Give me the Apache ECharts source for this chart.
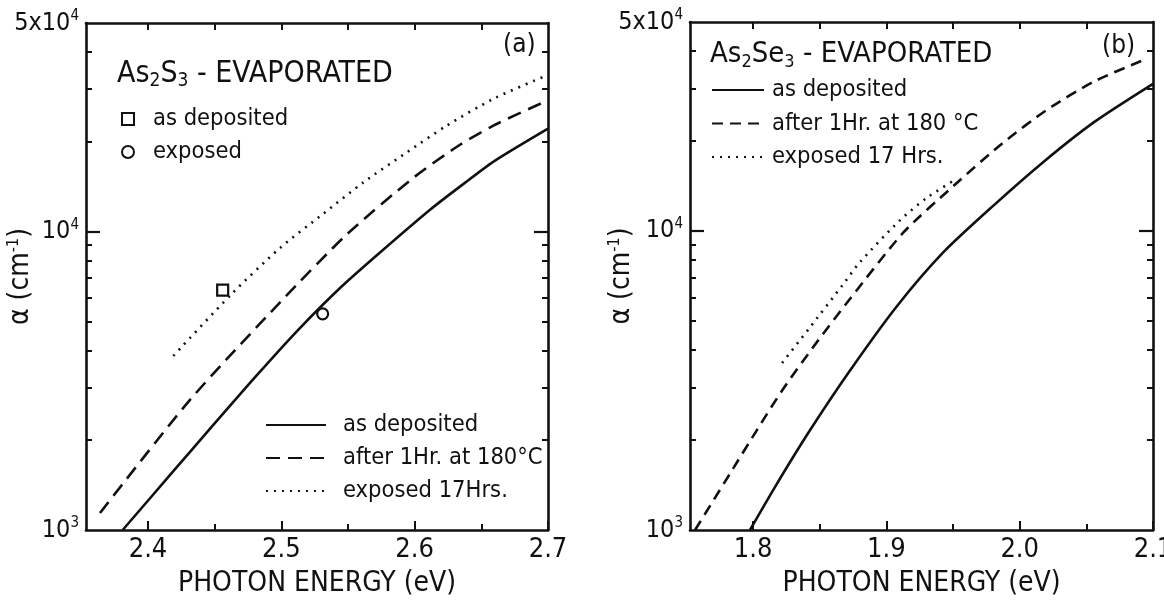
<!DOCTYPE html>
<html lang="en">
<head>
<meta charset="utf-8">
<title>Absorption edge of evaporated As2S3 and As2Se3 films</title>
<script src="https://cdn.jsdelivr.net/npm/echarts@6/dist/echarts.min.js"></script>
<style>
  html, body { margin: 0; padding: 0; background: #fff; }
  #main { width: 1164px; height: 600px; }
</style>
</head>
<body>
<div id="main"></div>
<script>
// (a) As2S3 evaporated: photon energy (eV) / absorption coefficient (cm-1)
var aSolidE = [2.381, 2.419, 2.448, 2.4815, 2.5125, 2.545, 2.574, 2.612, 2.639, 2.660, 2.700];
var aSolidA = [1000, 1574, 2223, 3296, 4677, 6531, 8511, 11885, 14720, 17260, 22130];
var aDashE = [2.364, 2.4315, 2.4995, 2.549, 2.599, 2.632, 2.659, 2.695];
var aDashA = [1140, 2729, 5821, 9772, 15140, 19280, 22650, 26920];
var aDotE = [2.419, 2.4625, 2.499, 2.5315, 2.5615, 2.594, 2.624, 2.660, 2.700];
var aDotA = [3830, 6166, 8810, 11480, 14620, 18410, 22650, 27990, 33500];
var aSquareE = [2.456];
var aSquareA = [6370];
var aCircleE = [2.531];
var aCircleA = [5300];

// (b) As2Se3 evaporated
var bSolidE = [1.7977, 1.8173, 1.8422, 1.8722, 1.9073, 1.9428, 1.9803, 2.0178, 2.0558, 2.100];
var bSolidA = [1000, 1413, 2138, 3388, 5559, 8492, 12160, 17020, 23120, 31050];
var bDashE = [1.7565, 1.7822, 1.8023, 1.8223, 1.8473, 1.8722, 1.9128, 1.9503, 1.9878, 2.0203, 2.0558, 2.092];
var bDashA = [1000, 1531, 2138, 2951, 4217, 5888, 9886, 14140, 19770, 25400, 31620, 37150];
var bDotE = [1.8218, 1.8422, 1.8673, 1.880, 1.910, 1.930, 1.9528];
var bDotA = [3620, 4732, 6607, 7852, 10840, 12880, 14960];

// axis ranges and tick values
var aRange = [2.3535, 2.7];
var bRange = [1.7527, 2.1];
var alphaRange = [1000, 50000];
var aMajorE = [2.4, 2.5, 2.6, 2.7];
var aMinorE = [2.45, 2.55, 2.65];
var aTopE = [2.4, 2.45, 2.5, 2.55, 2.6, 2.65];
var bMajorE = [1.8, 1.9, 2.0, 2.1];
var bMinorE = [1.85, 1.95, 2.05];
var bTopE = [1.8, 1.85, 1.9, 1.95, 2.0, 2.05];
var alphaLabels = [1000, 10000, 50000];
var alphaMajor = [10000];
var alphaMinor = [2000, 3000, 4000, 5000, 6000, 7000, 8000, 9000, 20000, 30000, 40000];

var legendNames = {
    'a-square': 'as deposited',
    'a-circle': 'exposed',
    'a-solid': 'as deposited',
    'a-dash': 'after 1Hr. at 180°C',
    'a-dot': 'exposed 17Hrs.',
    'b-solid': 'as deposited',
    'b-dash': 'after 1Hr. at 180 °C',
    'b-dot': 'exposed 17 Hrs.'
};

var FONT = "'DejaVu Sans Condensed', 'Liberation Sans Narrow', 'DejaVu Sans', sans-serif";
var INK = '#111';

function pairs(xs, ys) {
    return xs.map(function (x, i) { return [x, ys[i]]; });
}

function alphaLabel(v) {
    v = Math.round(v);
    if (v === 50000) return '{n|5x10}{s|4}';
    if (v === 10000) return '{n|10}{s|4}';
    if (v === 1000) return '{n|10}{s|3}';
    return '';
}

var borderLine = { onZero: false, lineStyle: { color: INK, width: 2.6 } };
var noLine = { show: false };

// three x axes per panel: bottom with labels, bottom minor ticks, top border
function xAxesFor(g, range, major, minor, top) {
    return [
        {
            type: 'value', gridIndex: g, position: 'bottom', min: range[0], max: range[1],
            axisLine: borderLine, splitLine: { show: false },
            axisTick: { inside: true, length: 9, customValues: major, lineStyle: { color: INK, width: 2 } },
            axisLabel: {
                customValues: major, margin: 6, color: INK, fontFamily: FONT, fontSize: 27,
                formatter: function (v) { return v.toFixed(1); }
            },
            name: 'PHOTON ENERGY (eV)', nameLocation: 'middle', nameGap: 40, nameMoveOverlap: false,
            nameTextStyle: { color: INK, fontFamily: FONT, fontSize: 28 }
        },
        {
            type: 'value', gridIndex: g, position: 'bottom', min: range[0], max: range[1],
            axisLine: noLine, splitLine: { show: false }, axisLabel: { show: false },
            axisTick: { inside: true, length: 6, customValues: minor, lineStyle: { color: INK, width: 2 } }
        },
        {
            type: 'value', gridIndex: g, position: 'top', min: range[0], max: range[1],
            axisLine: borderLine, splitLine: { show: false }, axisLabel: { show: false },
            axisTick: { inside: true, length: 7, customValues: top, lineStyle: { color: INK, width: 2 } }
        }
    ];
}

// four log y axes per panel: left with labels, left minor ticks, right border, right minor ticks
function yAxesFor(g, nameGap) {
    var base = { type: 'log', logBase: 10, gridIndex: g, min: alphaRange[0], max: alphaRange[1], splitLine: { show: false } };
    var minorTick = { inside: true, length: 6, customValues: alphaMinor, lineStyle: { color: INK, width: 2 } };
    var majorTick = { inside: true, length: 14, customValues: alphaMajor, lineStyle: { color: INK, width: 2.2 } };
    return [
        Object.assign({}, base, {
            position: 'left', axisLine: borderLine, axisTick: majorTick,
            axisLabel: {
                customValues: alphaLabels, margin: 7, color: INK, fontFamily: FONT, fontSize: 25,
                formatter: alphaLabel,
                rich: {
                    n: { fontFamily: FONT, fontSize: 25, color: INK, lineHeight: 28 },
                    s: { fontFamily: FONT, fontSize: 15, color: INK, verticalAlign: 'top' }
                }
            },
            name: '{t|α (cm}{s|-1}{t|)}', nameLocation: 'middle', nameRotate: 90, nameGap: nameGap,
            nameMoveOverlap: false,
            nameTextStyle: {
                color: INK, fontFamily: FONT, fontSize: 28,
                rich: {
                    t: { fontFamily: FONT, fontSize: 28, color: INK, lineHeight: 30 },
                    s: { fontFamily: FONT, fontSize: 16, color: INK, verticalAlign: 'top' }
                }
            }
        }),
        Object.assign({}, base, { position: 'left', axisLine: noLine, axisLabel: { show: false }, axisTick: minorTick }),
        Object.assign({}, base, { position: 'right', axisLine: borderLine, axisLabel: { show: false }, axisTick: majorTick }),
        Object.assign({}, base, { position: 'right', axisLine: noLine, axisLabel: { show: false }, axisTick: minorTick })
    ];
}

function curve(name, g, xs, ys, dash) {
    return {
        type: 'line', name: name, xAxisIndex: g * 3, yAxisIndex: g * 4,
        data: pairs(xs, ys), symbol: 'none', smooth: 0.25, clip: true,
        itemStyle: { color: INK },
        lineStyle: { color: INK, width: 2.6, type: dash }
    };
}

function point(name, xs, ys, symbol) {
    return {
        type: 'scatter', name: name, xAxisIndex: 0, yAxisIndex: 0,
        data: pairs(xs, ys), symbol: symbol, symbolSize: 11,
        itemStyle: { color: '#fff', borderColor: INK, borderWidth: 2.2, opacity: 1 }
    };
}

function titleRich(size) {
    return {
        t: { fontFamily: FONT, fontSize: size, fontWeight: 'normal', color: INK, lineHeight: 34 },
        d: { fontFamily: FONT, fontSize: Math.round(size * 0.62), fontWeight: 'normal', color: INK, verticalAlign: 'bottom' }
    };
}

var legendText = { color: INK, fontFamily: FONT, fontSize: 23.5, lineHeight: 24 };

var myChart = echarts.init(document.getElementById('main'), null, { renderer: 'canvas' });
var option = {
    animation: false,
    backgroundColor: '#fff',
    grid: [
        { left: 86, right: 1164 - 548, top: 23, bottom: 70, outerBoundsMode: 'none' },
        { left: 690, right: 1164 - 1153, top: 22, bottom: 70, outerBoundsMode: 'none' }
    ],
    title: [
        { text: '{t|As}{d|2}{t|S}{d|3}{t| - EVAPORATED}', left: 117, top: 57, padding: 0, textStyle: { fontWeight: 'normal', rich: titleRich(30) } },
        { text: '(a)', left: 503, top: 32, padding: 0, textStyle: { fontFamily: FONT, fontSize: 26, fontWeight: 'normal', color: INK } },
        { text: '{t|As}{d|2}{t|Se}{d|3}{t| - EVAPORATED}', left: 710, top: 37, padding: 0, textStyle: { fontWeight: 'normal', rich: titleRich(29) } },
        { text: '(b)', left: 1102, top: 33, padding: 0, textStyle: { fontFamily: FONT, fontSize: 26, fontWeight: 'normal', color: INK } }
    ],
    legend: [
        {
            data: ['a-square', 'a-circle'], orient: 'vertical', left: 121, top: 107, padding: 0,
            itemWidth: 12, itemHeight: 12, itemGap: 9, selectedMode: false,
            formatter: function (n) { return legendNames[n]; },
            textStyle: Object.assign({ padding: [0, 0, 0, 14] }, legendText)
        },
        {
            data: ['a-solid', 'a-dash', 'a-dot'], orient: 'vertical', left: 265, top: 413, padding: 0,
            itemWidth: 60, itemHeight: 14, itemGap: 9, selectedMode: false,
            itemStyle: { opacity: 0 },
            formatter: function (n) { return legendNames[n]; },
            textStyle: Object.assign({ padding: [0, 0, 0, 12] }, legendText)
        },
        {
            data: ['b-solid', 'b-dash', 'b-dot'], orient: 'vertical', left: 711, top: 78, padding: 0,
            itemWidth: 52, itemHeight: 14, itemGap: 9.5, selectedMode: false,
            itemStyle: { opacity: 0 },
            formatter: function (n) { return legendNames[n]; },
            textStyle: Object.assign({ padding: [0, 0, 0, 3] }, legendText)
        }
    ],
    xAxis: xAxesFor(0, aRange, aMajorE, aMinorE, aTopE).concat(xAxesFor(1, bRange, bMajorE, bMinorE, bTopE)),
    yAxis: yAxesFor(0, 50).concat(yAxesFor(1, 53)),
    series: [
        curve('a-solid', 0, aSolidE, aSolidA, 'solid'),
        curve('a-dash', 0, aDashE, aDashA, [14, 8]),
        curve('a-dot', 0, aDotE, aDotA, [2, 6]),
        point('a-square', aSquareE, aSquareA, 'rect'),
        point('a-circle', aCircleE, aCircleA, 'circle'),
        curve('b-solid', 1, bSolidE, bSolidA, 'solid'),
        curve('b-dash', 1, bDashE, bDashA, [11, 7]),
        curve('b-dot', 1, bDotE, bDotA, [2, 6])
    ]
};
myChart.setOption(option);
</script>
</body>
</html>
